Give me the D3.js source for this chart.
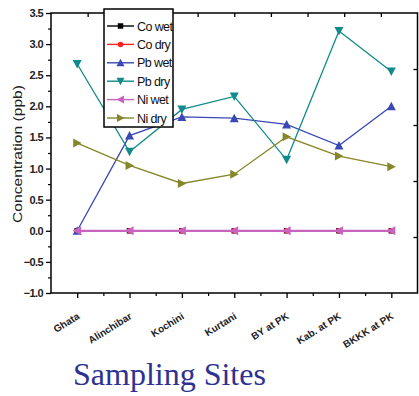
<!DOCTYPE html>
<html>
<head>
<meta charset="utf-8">
<script src="https://cdn.jsdelivr.net/npm/d3@7"></script>
<style>
  body { margin: 0; background: #fff; }
  svg { display: block; font-family: "Liberation Sans", Arial, sans-serif; }
</style>
</head>
<body>
<div id="chart"></div>
<script>
const width = 419;
const height = 396;

const sites = ["Ghata", "Alinchibar", "Kochini", "Kurtani", "BY at PK", "Kab. at PK", "BKKK at PK"];
const coWet = [0, 0, 0, 0, 0, 0, 0];
const coDry = [0, 0, 0, 0, 0, 0, 0];
const pbWet = [0, 1.53, 1.83, 1.81, 1.71, 1.37, 2.0];
const pbDry = [2.68, 1.27, 1.95, 2.16, 1.14, 3.21, 2.56];
const niWet = [0, 0, 0, 0, 0, 0, 0];
const niDry = [1.41, 1.05, 0.76, 0.91, 1.51, 1.2, 1.03];
const yTicks = [-1, -0.5, 0, 0.5, 1, 1.5, 2, 2.5, 3, 3.5];

const series = [
    { name: "Co wet", values: coWet, color: "#000000", symbol: "square" },
    { name: "Co dry", values: coDry, color: "#ff2020", symbol: "circle" },
    { name: "Pb wet", values: pbWet, color: "#3a48b4", symbol: "up" },
    { name: "Pb dry", values: pbDry, color: "#108a8a", symbol: "down" },
    { name: "Ni wet", values: niWet, color: "#c864c0", symbol: "left" },
    { name: "Ni dry", values: niDry, color: "#86862a", symbol: "right" }
];

const plotLeft = 51, plotRight = 417.5, plotTop = 13, plotBottom = 293;

const svg = d3.select("#chart")
    .append("svg")
    .attr("width", width)
    .attr("height", height);

const x = d3.scaleLinear().domain([0.5, 7.5]).range([plotLeft, plotRight]);
const y = d3.scaleLinear().domain([-1, 3.5]).range([plotBottom, plotTop]);

// marker shapes
function symbolPath(type, s) {
    const h = s / 2;
    switch (type) {
        case "square": return `M${-h},${-h}H${h}V${h}H${-h}Z`;
        case "circle": return d3.symbol(d3.symbolCircle, s * s * 0.8)();
        case "up": return `M0,${-h - 0.5}L${h + 0.5},${h}L${-h - 0.5},${h}Z`;
        case "down": return `M0,${h + 0.5}L${h + 0.5},${-h}L${-h - 0.5},${-h}Z`;
        case "left": return `M${-h - 0.5},0L${h},${-h - 0.5}L${h},${h + 0.5}Z`;
        case "right": return `M${h + 0.5},0L${-h},${-h - 0.5}L${-h},${h + 0.5}Z`;
    }
}

// bottom axis: major at sites, minor in between
svg.append("g")
    .attr("transform", `translate(0,${plotBottom})`)
    .call(d3.axisBottom(x).tickValues(d3.range(1, 8)).tickSize(5).tickFormat(""))
    .call(g => g.select(".domain").remove())
    .selectAll("line").attr("stroke-width", 1.3);

svg.append("g")
    .attr("transform", `translate(0,${plotBottom})`)
    .call(d3.axisBottom(x).tickValues(d3.range(1.5, 7.5, 1)).tickSize(3).tickFormat(""))
    .call(g => g.select(".domain").remove())
    .selectAll("line").attr("stroke-width", 1.2);

// x labels rotated
svg.append("g")
    .selectAll("text")
    .data(sites)
    .join("text")
    .attr("transform", (d, i) => `translate(${x(i + 1) + 3},${plotBottom + 25}) rotate(-32)`)
    .attr("text-anchor", "end")
    .attr("font-size", 10)
    .attr("font-weight", "bold")
    .attr("fill", "#222")
    .text(d => d);

// left axis
svg.append("g")
    .attr("transform", `translate(${plotLeft},0)`)
    .call(d3.axisLeft(y).tickValues(yTicks).tickSize(5).tickPadding(3).tickFormat(d3.format(".1f")))
    .call(g => g.select(".domain").remove())
    .call(g => g.selectAll("line").attr("stroke-width", 1.3))
    .call(g => g.selectAll("text")
        .attr("font-size", 11)
        .attr("font-weight", "bold")
        .attr("fill", "#222")
        .attr("letter-spacing", -0.6)
        .attr("font-family", "Liberation Sans, Arial, sans-serif"));

svg.append("g")
    .attr("transform", `translate(${plotLeft},0)`)
    .call(d3.axisLeft(y).tickValues(d3.range(-0.75, 3.5, 0.5)).tickSize(3).tickFormat(""))
    .call(g => g.select(".domain").remove())
    .selectAll("line").attr("stroke-width", 1.2);

// top and right mirror ticks (inward)
const topScale = d3.scaleLinear().domain([0, 10]).range([plotLeft, plotRight]);
svg.append("g")
    .attr("transform", `translate(0,${plotTop})`)
    .call(d3.axisBottom(topScale).tickValues(d3.range(1, 10)).tickSize(4).tickFormat(""))
    .call(g => g.select(".domain").remove())
    .selectAll("line").attr("stroke-width", 1.3);

const rightScale = d3.scaleLinear().domain([0, 5]).range([plotBottom, plotTop]);
svg.append("g")
    .attr("transform", `translate(${plotRight},0)`)
    .call(d3.axisLeft(rightScale).tickValues(d3.range(1, 5)).tickSize(4).tickFormat(""))
    .call(g => g.select(".domain").remove())
    .selectAll("line").attr("stroke-width", 1.3);

// frame
svg.append("rect")
    .attr("x", plotLeft)
    .attr("y", plotTop)
    .attr("width", plotRight - plotLeft)
    .attr("height", plotBottom - plotTop)
    .attr("fill", "none")
    .attr("stroke", "#000")
    .attr("stroke-width", 1.5);

// y title
svg.append("text")
    .attr("transform", `translate(22,154) rotate(-90)`)
    .attr("text-anchor", "middle")
    .attr("font-size", 13)
    .attr("fill", "#222")
    .attr("textLength", 138)
    .attr("lengthAdjust", "spacingAndGlyphs")
    .text("Concentration (ppb)");

// series
const line = d3.line()
    .x((d, i) => x(i + 1))
    .y(d => y(d));

series.forEach(s => {
    const g = svg.append("g");
    g.append("path")
        .attr("d", line(s.values))
        .attr("fill", "none")
        .attr("stroke", s.color)
        .attr("stroke-width", s.name === "Ni wet" ? 2.2 : 1.3);
    // Co markers sit under the Ni wet triangles, only their edges peek out
    const ms = s.name.startsWith("Co") ? 5.5 : 8;
    g.selectAll("path.mk")
        .data(s.values)
        .join("path")
        .attr("class", "mk")
        .attr("transform", (d, i) => `translate(${x(i + 1)},${y(d)})`)
        .attr("d", symbolPath(s.symbol, ms))
        .attr("fill", s.color);
});

// legend
const legend = svg.append("g");
legend.append("rect")
    .attr("x", 104)
    .attr("y", 9)
    .attr("width", 69)
    .attr("height", 118)
    .attr("fill", "#fff")
    .attr("stroke", "#000")
    .attr("stroke-width", 1.5);

series.forEach((s, i) => {
    const ly = 26 + i * 18.4;
    legend.append("line")
        .attr("x1", 107).attr("x2", 134)
        .attr("y1", ly).attr("y2", ly)
        .attr("stroke", s.color)
        .attr("stroke-width", 1.4);
    legend.append("path")
        .attr("transform", `translate(120.5,${ly})`)
        .attr("d", symbolPath(s.symbol, s.name.startsWith("Co") ? 5.5 : 7))
        .attr("fill", s.color);
    legend.append("text")
        .attr("x", 137)
        .attr("y", ly + 4.5)
        .attr("font-size", 12.5)
        .attr("letter-spacing", -0.6)
        .attr("fill", "#111")
        .text(s.name);
});

// footer title
svg.append("text")
    .attr("x", 73)
    .attr("y", 385)
    .attr("font-family", "Liberation Serif, Times New Roman, serif")
    .attr("font-size", 32)
    .attr("fill", "#2e3192")
    .text("Sampling Sites");
</script>
</body>
</html>
